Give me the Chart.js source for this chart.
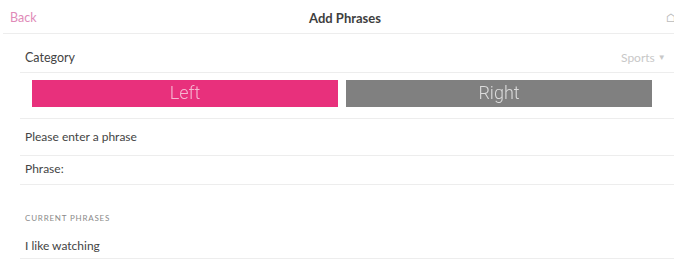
<!DOCTYPE html>
<html>
<head>
<meta charset="utf-8">
<script src="https://cdn.jsdelivr.net/npm/chart.js@4/dist/chart.umd.min.js"></script>
<style>
  html, body { margin: 0; padding: 0; background: #fff; width: 674px; height: 260px; overflow: hidden; }
  body { position: relative; font-family: "Lato", "Open Sans", sans-serif; color: #444; }
  .t { position: absolute; white-space: nowrap; line-height: 1; }
  .line { position: absolute; height: 1px; background: #ededed; }
  #wrap { position: absolute; left: 28px; top: 80px; width: 628px; height: 27px; }
</style>
</head>
<body>
  <div class="t" style="left:10px; top:12px; font-size:12.5px; color:#e08ab8;">Back</div>
  <div class="t" style="left:0; width:674px; text-align:center; top:12px; font-size:13px; font-weight:700; color:#3e3e3e; padding-left:16px; box-sizing:border-box;">Add Phrases</div>
  <div class="t" style="left:666px; top:12px; font-size:12px; color:#bbb;">⌂</div>
  <div class="line" style="left:3px; width:671px; top:33px;"></div>

  <div class="t" style="left:25px; top:52px; font-size:12.5px; color:#444;">Category</div>
  <div class="t" style="left:621px; top:52px; font-size:12px; color:#c8c8c8;">Sports <span style="font-size:8px; vertical-align:2px;">▼</span></div>
  <div class="line" style="left:20px; width:654px; top:72px;"></div>

  <div id="wrap"><canvas id="c"></canvas></div>

  <div class="line" style="left:20px; width:654px; top:118px;"></div>
  <div class="t" style="left:25px; top:131px; font-size:12px; color:#444;">Please enter a phrase</div>
  <div class="line" style="left:20px; width:654px; top:155px;"></div>
  <div class="t" style="left:25px; top:163px; font-size:12px; color:#444;">Phrase:</div>
  <div class="line" style="left:20px; width:654px; top:184px;"></div>

  <div class="t" style="left:25px; top:214px; font-size:8px; letter-spacing:0.8px; color:#8a8a8a;">CURRENT PHRASES</div>
  <div class="t" style="left:25px; top:240px; font-size:12px; color:#444;">I like watching</div>
  <div class="line" style="left:20px; width:654px; top:258px;"></div>

<script>
const categories = ['Left', 'Right'];
const values = [1, 1];
const barColors = ['#e8307c', '#808080'];
const textColors = ['#f5b6d0', '#dcdcdc'];

const labelPlugin = {
  id: 'barLabels',
  afterDatasetsDraw(chart) {
    const ctx = chart.ctx;
    const meta = chart.getDatasetMeta(0);
    ctx.save();
    ctx.font = '300 18px Roboto, sans-serif';
    ctx.textAlign = 'center';
    ctx.textBaseline = 'middle';
    meta.data.forEach((bar, i) => {
      const p = bar.getProps(['x', 'y', 'base'], true);
      ctx.fillStyle = textColors[i];
      ctx.fillText(categories[i], p.x, (p.y + p.base) / 2 + 1);
    });
    ctx.restore();
  }
};

new Chart(document.getElementById('c'), {
  type: 'bar',
  data: {
    labels: categories,
    datasets: [{
      data: values,
      backgroundColor: barColors,
      borderWidth: 0,
      categoryPercentage: 1,
      barPercentage: 306 / 314
    }]
  },
  options: {
    responsive: true,
    maintainAspectRatio: false,
    animation: false,
    layout: { padding: 0 },
    plugins: { legend: { display: false }, tooltip: { enabled: false } },
    scales: {
      x: { display: false, offset: true },
      y: { display: false, min: 0, max: 1 }
    }
  },
  plugins: [labelPlugin]
});
</script>
</body>
</html>
